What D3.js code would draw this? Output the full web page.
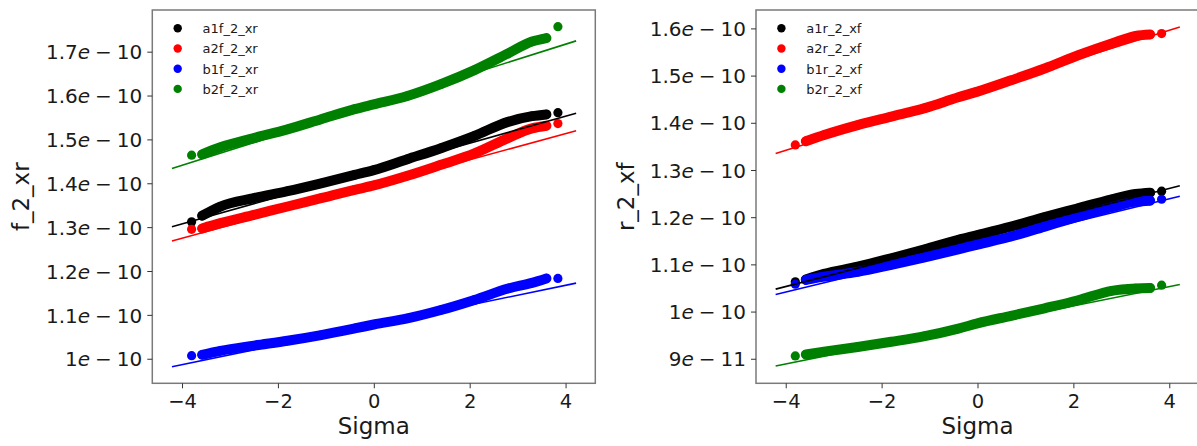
<!DOCTYPE html>
<html>
<head>
<meta charset="utf-8">
<script src="https://cdn.jsdelivr.net/npm/d3@7"></script>
<style>
  body { margin: 0; background: #fff; }
  text { font-family: "DejaVu Sans", sans-serif; fill: #1a1a1a; }
</style>
</head>
<body>
<div id="chart"></div>
<script>
// quantile points, values in units of 1e-10
const sigma = [-3.8, -3.58, -3.2, -2.5, -1.8, -1.1, -0.4, 0, 0.7, 1.4, 2.1, 2.8, 3.3, 3.6, 3.84];

const leftNames = ["a1f_2_xr", "a2f_2_xr", "b1f_2_xr", "b2f_2_xr"];
const a1f = [1.312, 1.326, 1.347, 1.366, 1.382, 1.400, 1.419, 1.430, 1.455, 1.480, 1.508, 1.540, 1.553, 1.557, 1.561];
const a2f = [1.295, 1.297, 1.309, 1.328, 1.347, 1.366, 1.385, 1.395, 1.417, 1.442, 1.468, 1.503, 1.525, 1.531, 1.536];
const b1f = [1.007, 1.009, 1.018, 1.030, 1.041, 1.054, 1.069, 1.078, 1.092, 1.111, 1.134, 1.160, 1.173, 1.183, 1.183];
const b2f = [1.464, 1.466, 1.482, 1.503, 1.523, 1.546, 1.569, 1.580, 1.599, 1.626, 1.658, 1.696, 1.723, 1.731, 1.757];
const leftSlope = [0.0307, 0.0298, 0.0226, 0.0345];
const leftIntercept = [1.430, 1.394, 1.077, 1.579];

const rightNames = ["a1r_2_xf", "a2r_2_xf", "b1r_2_xf", "b2r_2_xf"];
const a1r = [1.063, 1.068, 1.080, 1.095, 1.113, 1.132, 1.152, 1.162, 1.180, 1.200, 1.219, 1.238, 1.249, 1.252, 1.255];
const a2r = [1.353, 1.361, 1.374, 1.395, 1.413, 1.431, 1.454, 1.466, 1.490, 1.515, 1.543, 1.568, 1.584, 1.587, 1.589];
const b1r = [1.058, 1.067, 1.074, 1.084, 1.099, 1.115, 1.132, 1.142, 1.159, 1.180, 1.201, 1.221, 1.233, 1.235, 1.238];
const b2r = [0.906, 0.909, 0.915, 0.925, 0.936, 0.948, 0.964, 0.975, 0.991, 1.007, 1.024, 1.044, 1.049, 1.050, 1.056];
const rightSlope = [0.0260, 0.0318, 0.0247, 0.0205];
const rightIntercept = [1.157, 1.469, 1.140, 0.971];

const colors = ["#000000", "#ff0000", "#0000ff", "#008000"];
const fitRange = [-4.21, 4.22];
const xTicks = [-4, -2, 0, 2, 4];
const leftYTicks = [1.0, 1.1, 1.2, 1.3, 1.4, 1.5, 1.6, 1.7];
const rightYTicks = [0.9, 1.0, 1.1, 1.2, 1.3, 1.4, 1.5, 1.6];

const W = 1197, H = 446;
const svg = d3.select("#chart").append("svg")
    .attr("width", W).attr("height", H);

// mathtext style label: 1.7e − 10  (d is in units of 1e-10)
function sciParts(d) {
    if (d < 1 - 1e-9) return [String(+(d * 10).toFixed(1)), "11"];
    return [String(+d.toFixed(1)), "10"];
}

function draw_panel(opts) {
    var x = d3.scaleLinear().domain([-4.62, 4.62]).range([opts.left, opts.left + 443]);
    var y = d3.scaleLinear().domain(opts.yDomain).range([383.3, 10]);
    var g = svg.append("g");

    // bands of overlapping markers
    var band = d3.line()
        .x(function(d) { return x(d[0]); })
        .y(function(d) { return y(d[1]); })
        .curve(d3.curveMonotoneX);
    opts.series.forEach(function(s, i) {
        var pts = sigma.map(function(v, k) { return [v, s[k]]; });
        g.append("path")
            .datum(pts.slice(1, 14))
            .attr("fill", "none")
            .attr("stroke", colors[i])
            .attr("stroke-width", 10)
            .attr("stroke-linecap", "round")
            .attr("stroke-linejoin", "round")
            .attr("d", band);
        g.selectAll(null)
            .data(pts)
            .join("circle")
            .attr("cx", function(d) { return x(d[0]); })
            .attr("cy", function(d) { return y(d[1]); })
            .attr("r", 4.6)
            .attr("fill", colors[i]);
    });
    // fitted lines
    opts.series.forEach(function(s, i) {
        g.append("line")
            .attr("x1", x(fitRange[0]))
            .attr("x2", x(fitRange[1]))
            .attr("y1", y(opts.intercept[i] + opts.slope[i] * fitRange[0]))
            .attr("y2", y(opts.intercept[i] + opts.slope[i] * fitRange[1]))
            .attr("stroke", colors[i])
            .attr("stroke-width", 1.6);
    });

    // frame
    g.append("rect")
        .attr("x", opts.left).attr("y", 10)
        .attr("width", 443).attr("height", 373.3)
        .attr("fill", "none")
        .attr("stroke", "#7a7a7a")
        .attr("stroke-width", 1.5);

    // x axis
    var xa = g.append("g")
        .attr("transform", "translate(0,383.3)")
        .call(d3.axisBottom(x).tickValues(xTicks).tickSize(5).tickPadding(6)
            .tickFormat(function(d) { return d < 0 ? "\u2212" + Math.abs(d) : d; }));
    xa.select(".domain").remove();
    xa.selectAll("line").attr("stroke", "#333");
    xa.selectAll("text").attr("font-size", 19.5).attr("font-family", "DejaVu Sans").attr("fill", "#1a1a1a");

    // y axis
    var ya = g.append("g")
        .attr("transform", "translate(" + opts.left + ",0)")
        .call(d3.axisLeft(y).tickValues(opts.yTicks).tickSize(5).tickPadding(5).tickFormat(""));
    ya.select(".domain").remove();
    ya.selectAll("line").attr("stroke", "#333");
    ya.selectAll(".tick text").each(function(d) {
        var p = sciParts(d);
        var t = d3.select(this)
            .attr("font-size", 20).attr("font-family", "DejaVu Sans").attr("fill", "#1a1a1a")
            .attr("dy", "0.36em");
        t.append("tspan").text(p[0]);
        t.append("tspan").attr("font-style", "italic").text("e");
        t.append("tspan").attr("dx", 5).text("\u2212");
        t.append("tspan").attr("dx", 5).text(p[1]);
    });

    // axis titles
    g.append("text")
        .attr("x", x(0)).attr("y", 434)
        .attr("text-anchor", "middle")
        .attr("font-size", 23)
        .text("Sigma");
    g.append("text")
        .attr("transform", "translate(" + opts.yLabelX + ",196.7) rotate(-90)")
        .attr("text-anchor", "middle")
        .attr("font-size", 23)
        .text(opts.yLabel);

    // legend
    opts.names.forEach(function(n, i) {
        var ly = 28.3 + i * 20.2;
        g.append("circle").attr("cx", opts.left + 25.4).attr("cy", ly).attr("r", 4.2).attr("fill", colors[i]);
        g.append("text").attr("x", opts.left + 50.3).attr("y", ly + 4.8)
            .attr("font-size", 13).text(n);
    });
}

draw_panel({
    left: 152.3, yDomain: [0.944, 1.795], yTicks: leftYTicks,
    series: [a1f, a2f, b1f, b2f], slope: leftSlope, intercept: leftIntercept,
    names: leftNames, yLabel: "f_2_xr", yLabelX: 29
});
draw_panel({
    left: 756, yDomain: [0.848, 1.639], yTicks: rightYTicks,
    series: [a1r, a2r, b1r, b2r], slope: rightSlope, intercept: rightIntercept,
    names: rightNames, yLabel: "r_2_xf", yLabelX: 634
});
</script>
</body>
</html>
